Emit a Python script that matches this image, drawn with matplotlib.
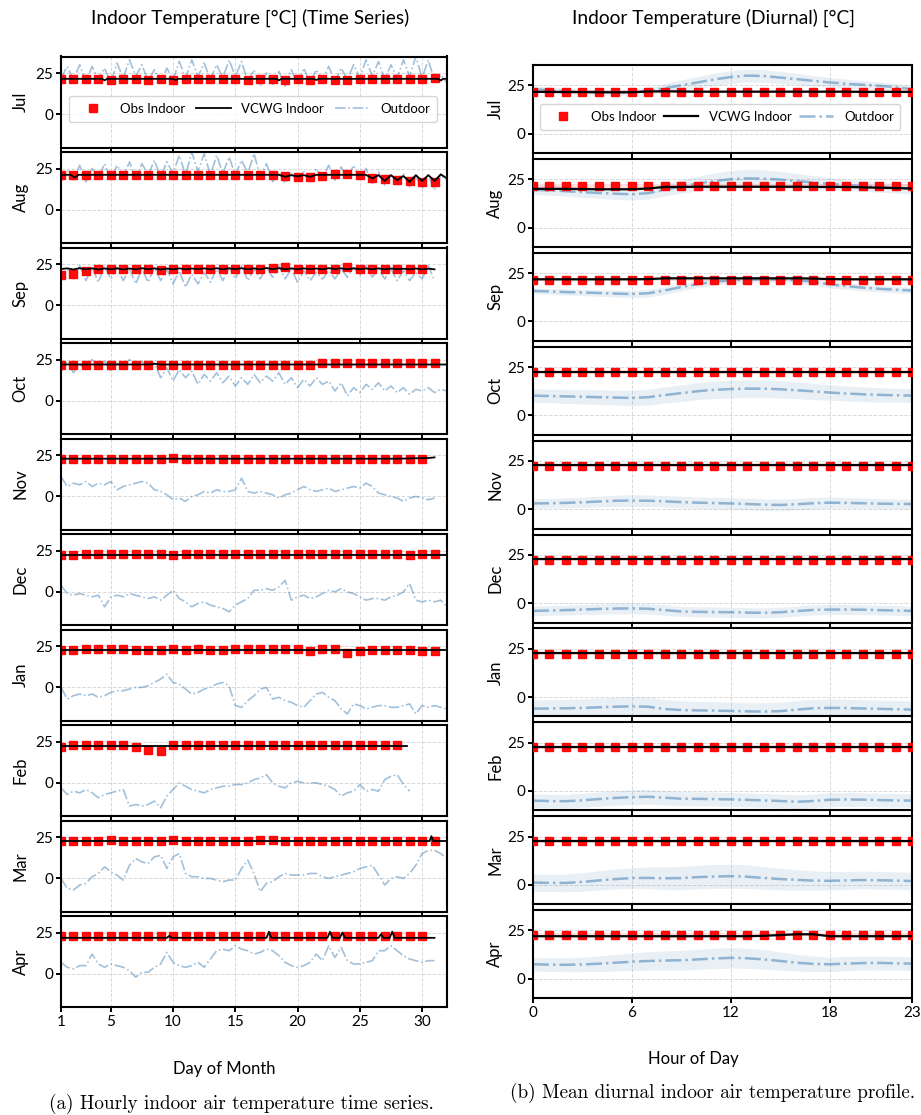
import numpy as np
import matplotlib.pyplot as plt

plt.rcParams['font.family'] = ['Lato', 'DejaVu Sans']

months = ['Jul', 'Aug', 'Sep', 'Oct', 'Nov', 'Dec', 'Jan', 'Feb', 'Mar', 'Apr']

# ---------------- hourly time series (outdoor sampled every half day) ----------------
out_jul = [22, 29, 21, 30, 20, 29, 21, 28, 19, 31, 22, 33, 23, 30, 20, 27, 19, 28, 21, 32, 22, 33,
           23, 31, 21, 30, 22, 33, 23, 32, 20, 27, 17, 25, 18, 26, 17, 27, 18, 28, 19, 27, 21, 29,
           20, 28, 21, 30, 22, 33, 23, 32, 21, 30, 22, 33, 23, 35, 22, 33, 20, 24, 19]
out_aug = [17, 24, 18, 27, 17, 25, 19, 28, 18, 27, 20, 29, 19, 28, 21, 30, 20, 29, 22, 33, 21, 35,
           23, 34, 21, 33, 22, 32, 21, 30, 22, 34, 20, 28, 17, 23, 16, 22, 17, 23, 18, 25, 19, 27,
           18, 26, 19, 27, 18, 25, 16, 23, 15, 21, 16, 22, 14, 20, 13, 21, 12, 21, 18]
out_sep = [15, 22, 16, 24, 15, 23, 14, 24, 16, 23, 15, 22, 13, 22, 14, 23, 15, 22, 13, 21, 11, 19,
           13, 20, 14, 22, 15, 23, 16, 24, 15, 22, 16, 23, 17, 24, 16, 22, 14, 21, 15, 20, 16, 21,
           16, 22, 17, 23, 18, 24, 17, 22, 16, 22, 15, 21, 15, 20, 16, 24, 15]
out_oct = [18, 24, 17, 22, 19, 25, 20, 24, 18, 23, 20, 25, 21, 24, 19, 23, 14, 20, 12, 19, 14, 18,
           10, 16, 12, 17, 11, 15, 9, 14, 10, 16, 11, 15, 12, 17, 10, 14, 8, 13, 9, 14, 10, 12,
           6, 11, 3, 8, 5, 10, 7, 11, 6, 9, 5, 8, 4, 7, 6, 8, 5, 7, 6]
out_nov = [12, 6, 8, 7, 9, 6, 8, 7, 9, 4, 6, 7, 8, 9, 8, 4, 3, 1, -2, -1, -3, 0, 1, 3, 2, 4, 3, 3,
           4, 11, 3, 2, 3, 2, 1, -1, 1, 2, 4, 6, 4, 3, 4, 5, 3, 4, 5, 6, 5, 8, 6, 2, 1, 0, -1, -3,
           -1, 0, -1, -2, -1]
out_dec = [4, -1, -2, -1, -2, -3, -2, -9, -3, -2, -3, -1, -2, -3, -4, -3, -5, -2, 1, -4, -6, -9,
           -7, -6, -8, -9, -10, -12, -8, -6, -4, 1, 1, 2, 1, 3, 7, -5, -3, -2, -4, -3, -1, 1, 0,
           2, 0, -1, -3, -5, -4, -4, -5, -3, -2, 0, 5, -5, -6, -5, -6, -5, -9]
out_jan = [0, -7, -5, -4, -5, -4, -6, -5, -3, -2, -2, -1, 0, 0, 1, 3, 5, 8, 3, 2, -1, -4, -3, -1,
           0, 2, 3, 1, -11, -12, -8, -5, -1, 0, -7, -6, -8, -9, -11, -12, -8, -4, -3, -6, -8, -13,
           -16, -10, -11, -13, -12, -11, -11, -12, -12, -11, -10, -16, -11, -12, -11, -12, -13]
out_feb = [-3, -7, -5, -6, -4, -6, -9, -7, -6, -5, -4, -14, -13, -14, -13, -11, -15, -8, -4, 0,
           -2, -4, -5, -6, -4, -3, -2, -2, -1, -1, 0, 2, 3, 5, 0, -2, -3, 0, 1, 0, 0, 0, -1, -2,
           -4, -8, -6, -5, -1, -5, -4, -5, 2, 4, 5, -1, -5]
out_mar = [0, -6, -7, -4, -3, 1, 3, 7, 4, 2, -1, 8, 12, 10, 9, 13, 14, 6, 13, 15, 3, 1, 1, 0, 0,
           -1, -2, -1, -1, 6, 11, 3, -8, -3, -2, 1, 3, 2, 2, 2, 3, 3, 1, 0, 1, 2, 3, 4, 6, 7, 8,
           2, -4, 0, 1, 0, 3, 8, 15, 17, 17, 15, 12]
out_apr = [7, 4, 3, 5, 5, 12, 6, 4, 6, 5, 4, 2, -2, 1, 1, 4, 6, 13, 7, 5, 4, 5, 7, 4, 9, 14, 15,
           14, 17, 15, 14, 12, 13, 15, 14, 11, 7, 5, 4, 5, 7, 12, 8, 17, 10, 16, 8, 6, 6, 7, 8,
           14, 14, 17, 14, 11, 9, 8, 7, 8, 8]

# observed indoor, one value per day
obs_jul = [21.5, 21.3, 21.3, 21.3, 21.0, 21.3, 21.3, 21.0, 21.3, 21.0, 21.3, 21.3, 21.3, 21.3, 21.3, 21.0,
           21.3, 21.3, 21.0, 21.3, 21.0, 21.3, 20.5, 20.7, 21.3, 21.5, 21.3, 21.3, 21.3, 21.3, 21.8]
obs_aug = [21.3, 21.0, 21.0, 21.3, 21.3, 21.3, 21.3, 21.3, 21.3, 21.3, 21.3, 21.3, 21.3, 21.3, 21.3, 21.3,
           21.3, 21.3, 20.5, 20.0, 20.0, 20.5, 21.6, 21.5, 21.0, 19.5, 18.5, 18.0, 17.5, 17.0, 17.0]
obs_sep = [18.2, 18.8, 21.0, 22.0, 22.0, 22.0, 22.0, 22.0, 21.5, 22.0, 22.0, 22.0, 22.0, 22.0, 22.0,
           22.0, 22.0, 22.5, 23.0, 22.0, 22.0, 22.0, 22.0, 23.0, 22.0, 22.0, 22.0, 22.0, 22.0, 22.0]
obs_oct = [21.5, 21.5, 21.5, 21.5, 21.5, 21.5, 21.5, 21.5, 21.5, 21.5, 21.5, 21.5, 21.5, 21.5, 21.5, 21.5,
           21.5, 21.5, 21.5, 21.5, 21.5, 23.0, 23.0, 23.0, 23.0, 23.0, 23.0, 23.0, 23.0, 23.0, 23.0]
obs_nov = [22.8, 22.8, 22.8, 22.8, 22.8, 22.8, 22.8, 22.8, 22.8, 23.5, 22.8, 22.8, 22.8, 22.8, 22.8,
           22.8, 22.8, 22.8, 22.8, 22.8, 22.8, 22.8, 22.8, 22.8, 22.8, 22.8, 22.8, 22.8, 22.8, 22.8]
obs_dec = [22.5, 22.5, 23.0, 22.7, 23.0, 22.8, 22.8, 22.7, 22.8, 22.5, 22.8, 22.8, 22.7, 22.7, 22.8, 22.8,
           22.7, 22.7, 22.8, 22.7, 23.0, 22.8, 22.7, 22.8, 22.8, 22.7, 22.8, 22.8, 22.5, 23.0, 22.8]
obs_jan = [22.8, 22.8, 23.0, 23.0, 23.0, 23.0, 22.8, 22.8, 22.8, 23.0, 22.8, 23.0, 22.8, 22.8, 23.0, 23.0,
           23.0, 23.0, 23.0, 23.0, 21.8, 23.0, 23.0, 20.7, 22.0, 22.5, 22.5, 22.5, 22.8, 21.8, 22.0]
obs_feb = [22.0, 23.0, 23.0, 23.0, 23.0, 23.0, 22.0, 20.1, 19.5, 23.0, 23.0, 23.0, 23.0, 23.0,
           23.0, 23.0, 23.0, 23.0, 22.8, 22.8, 23.0, 23.0, 23.0, 22.8, 22.8, 22.8, 23.0, 22.8]
obs_mar = [22.8, 22.8, 22.8, 22.8, 23.0, 22.8, 22.8, 22.8, 22.8, 23.0, 22.8, 22.8, 22.8, 22.5, 22.8, 22.8,
           23.5, 23.0, 22.8, 22.8, 22.8, 22.8, 22.8, 22.8, 22.8, 22.8, 22.8, 22.8, 22.8, 22.8, 22.8]
obs_apr = [22.8, 22.8, 22.8, 22.8, 22.8, 22.8, 22.8, 22.8, 22.8, 22.8, 22.8, 22.8, 22.8, 22.8, 22.8,
           22.8, 22.8, 22.8, 22.8, 22.8, 22.8, 22.8, 22.8, 22.8, 22.8, 22.8, 22.8, 22.8, 22.8, 22.8]

# VCWG indoor, (day, value) nodes
vcwg_t_jul = [1, 4.3, 4.5, 4.7, 10.0, 10.2, 10.4, 18.3, 18.5, 18.7, 21.3, 21.5, 21.7, 31.3, 31.5, 31.7, 32]
vcwg_jul = [21.5, 21.5, 20.6, 21.5, 21.5, 20.8, 21.5, 21.5, 20.6, 21.5, 21.5, 20.8, 21.5, 21.5, 20.5, 21.5, 21.5]
vcwg_t_aug = [1, 1.8, 2.1, 2.4, 18.5, 19, 19.5, 20, 20.5, 21, 21.5, 25.5, 26, 26.5, 27, 27.5, 28,
              28.5, 29, 29.5, 30, 30.5, 31, 31.5, 32]
vcwg_aug = [21.2, 21.2, 19.5, 21.2, 21.2, 20.0, 21.0, 20.3, 21.0, 20.0, 21.2, 21.2, 19.0, 21.0, 17.5, 21.0,
            18.0, 20.5, 17.0, 21.0, 17.5, 21.0, 17.5, 21.5, 19.0]
vcwg_t_sep = [1, 1.5, 2, 2.5, 3, 3.5, 4, 4.5, 5, 5.5, 6, 6.5, 7, 7.5, 8, 8.5, 9, 9.5, 10, 10.5, 11, 11.5,
              12, 12.5, 13, 13.5, 14, 14.5, 15, 15.5, 16, 16.5, 17, 17.5, 18, 18.5, 19, 19.5, 20, 20.5,
              21, 21.5, 22, 22.5, 23, 23.5, 24, 24.5, 25, 25.5, 26, 26.5, 27, 27.5, 28, 28.5, 29, 29.5,
              30, 30.5, 31]
vcwg_sep = [22.0, 22.4, 21.7, 22.5, 21.8, 22.4, 21.7, 22.3, 21.8, 22.4, 21.7, 22.3, 21.8, 22.5, 21.8, 22.4,
            21.7, 22.3, 21.8, 22.4, 21.8, 22.3, 21.9, 22.4, 21.8, 22.5, 21.8, 22.4, 21.9, 22.5, 21.8, 22.4,
            21.8, 22.6, 21.9, 22.5, 21.8, 22.4, 21.8, 22.4, 21.9, 22.3, 21.8, 22.5, 22.0, 22.4, 21.8, 22.4,
            21.9, 22.3, 21.8, 22.4, 21.8, 22.3, 21.9, 22.2, 21.8, 22.3, 21.8, 22.2, 21.8]
vcwg_t_oct = [1, 8, 8.5, 9, 32]
vcwg_oct = [22.0, 22.0, 22.4, 22.0, 22.0]
vcwg_t_nov = [1, 28, 30.5, 31]
vcwg_nov = [22.8, 22.8, 23.2, 23.6]
vcwg_t_dec = [1, 32]
vcwg_dec = [22.6, 22.6]
vcwg_t_jan = [1, 32]
vcwg_jan = [22.7, 22.7]
vcwg_t_feb = [1, 28.8]
vcwg_feb = [22.6, 22.6]
vcwg_t_mar = [1, 30.6, 30.75, 30.9, 32]
vcwg_mar = [22.6, 22.6, 25.5, 22.6, 22.6]
vcwg_t_apr = [1, 9.5, 9.7, 9.9, 17.5, 17.7, 17.9, 22.4, 22.6, 22.8, 23.4, 23.6, 23.8, 26.5, 26.7,
              26.9, 27.4, 27.6, 27.8, 31]
vcwg_apr = [21.8, 21.8, 23.0, 21.8, 21.8, 25.5, 21.8, 21.8, 25.5, 21.8, 21.8, 25.0, 21.8, 21.8, 24.0,
            21.8, 21.8, 25.5, 21.8, 21.8]

# ---------------- mean diurnal profiles (hours 0-23) ----------------
hours = np.arange(24)
d_out_jul = [23, 22.5, 22, 21.7, 21.5, 21.4, 21.5, 22, 23.5, 25, 26.5, 28, 29.3, 30, 29.8, 29, 28.2,
             27.3, 26.5, 25.8, 25.3, 24.8, 24, 23]
d_out_aug = [19.5, 19.2, 18.8, 18.3, 17.9, 17.5, 17.2, 17.8, 19.5, 21.2, 22.8, 24, 25, 25.4, 25.3,
             24.8, 24, 23.3, 22.6, 22, 21.5, 21, 20.5, 20]
d_out_sep = [15.8, 15.5, 15.2, 15, 14.7, 14.4, 14.2, 14.6, 16, 17.8, 19.3, 20.5, 21.2, 21.6, 21.8,
             21.7, 21.3, 20.5, 19.2, 18.3, 17.5, 16.9, 16.4, 16]
d_out_oct = [10.2, 10, 9.8, 9.6, 9.4, 9.2, 9, 9.4, 10.5, 11.5, 12.5, 13.2, 13.6, 13.8, 13.8, 13.5,
             13, 12.4, 11.8, 11.3, 10.9, 10.6, 10.4, 10.2]
d_out_nov = [3, 3.1, 3.3, 3.6, 4, 4.4, 4.5, 4.4, 4.1, 3.7, 3.4, 3.2, 3, 2.7, 2.4, 2.2, 2.6, 3.1, 3.4,
             3.3, 3.1, 2.9, 2.8, 2.7]
d_out_dec = [-4, -3.8, -3.6, -3.3, -3, -2.8, -2.7, -2.9, -3.6, -4.3, -4.5, -4.6, -4.7, -4.9, -5,
             -4.7, -4.1, -3.5, -3.3, -3.3, -3.4, -3.6, -3.8, -4]
d_out_jan = [-6, -5.9, -5.8, -5.6, -5.3, -5, -4.8, -5, -6.2, -6.7, -6.9, -7, -7.2, -7.4, -7.5, -7.3,
             -6.5, -5.8, -5.6, -5.7, -5.9, -6.1, -6.3, -6.5]
d_out_feb = [-5, -5.2, -5.3, -4.8, -4.2, -3.6, -3.2, -3, -3.5, -4, -4.1, -4.2, -4.4, -4.6, -4.9, -5.2,
             -5.6, -5.2, -4.6, -4.4, -4.5, -4.7, -4.9, -5]
d_out_mar = [1.2, 1, 1, 1.5, 2.3, 3, 3.5, 3.6, 3.4, 3.5, 4, 4.3, 4.5, 4.2, 3.6, 3, 2.6, 2.2, 2.1, 2.3,
             2.5, 2.4, 2.2, 2]
d_out_apr = [7.5, 7.3, 7.2, 7.4, 7.8, 8.3, 8.8, 9.2, 9.4, 9.6, 10, 10.5, 10.8, 10.6, 10, 9.2, 8.3,
             7.7, 7.5, 7.8, 8.1, 8.2, 8, 7.8]

# outdoor spread (one std) per month
d_std_jul = [1.7, 1.7, 1.6, 1.6, 1.6, 1.6, 1.7, 2.0, 2.4, 2.8, 3.0, 3.2, 3.3, 3.3, 3.3, 3.2, 3.0, 2.8,
             2.6, 2.4, 2.2, 2.0, 1.9, 1.8]
d_std_aug = [2.5, 2.5, 2.6, 2.7, 2.8, 2.9, 3.0, 3.0, 3.2, 3.5, 3.8, 4.2, 4.5, 4.7, 4.6, 4.3, 4.0, 3.6,
             3.2, 3.0, 2.8, 2.7, 2.6, 2.5]
d_std_sep = [1.5, 1.5, 1.6, 1.6, 1.7, 1.8, 1.9, 2.0, 2.0, 2.0, 1.9, 1.8, 1.6, 1.5, 1.5, 1.6, 1.7, 1.8,
             1.8, 1.7, 1.7, 1.6, 1.6, 1.5]
d_std_oct = [3.5, 3.5, 3.6, 3.7, 3.8, 3.9, 4.0, 4.1, 4.2, 4.3, 4.4, 4.5, 4.6, 4.6, 4.6, 4.5, 4.4, 4.2,
             4.0, 3.9, 3.8, 3.7, 3.6, 3.5]
d_std_nov = [2.5, 2.5, 2.6, 2.7, 2.8, 2.9, 3.0, 3.0, 3.0, 3.0, 3.0, 3.0, 3.0, 3.0, 3.0, 3.0, 3.0, 3.0,
             2.9, 2.8, 2.7, 2.6, 2.5, 2.5]
d_std_dec = [2.5, 2.5, 2.5, 2.6, 2.7, 2.8, 2.8, 2.8, 2.7, 2.6, 2.6, 2.6, 2.6, 2.6, 2.6, 2.6, 2.6, 2.6,
             2.6, 2.6, 2.5, 2.5, 2.5, 2.5]
d_std_jan = [4.5, 4.5, 4.6, 4.7, 4.8, 4.9, 5.0, 5.0, 4.9, 4.8, 4.7, 4.6, 4.6, 4.6, 4.6, 4.6, 4.6, 4.6,
             4.6, 4.6, 4.5, 4.5, 4.5, 4.5]
d_std_feb = [3.5, 3.5, 3.6, 3.6, 3.7, 3.8, 3.9, 3.9, 3.8, 3.7, 3.6, 3.6, 3.6, 3.6, 3.6, 3.6, 3.6, 3.6,
             3.6, 3.6, 3.5, 3.5, 3.5, 3.5]
d_std_mar = [4.5, 4.5, 4.6, 4.8, 5.0, 5.2, 5.4, 5.6, 5.8, 6.0, 6.1, 6.2, 6.2, 6.1, 5.9, 5.6, 5.3, 5.0,
             4.8, 4.7, 4.6, 4.6, 4.5, 4.5]
d_std_apr = [3.5, 3.5, 3.6, 3.8, 4.0, 4.3, 4.6, 4.8, 5.0, 5.1, 5.2, 5.3, 5.3, 5.2, 5.0, 4.7, 4.3, 4.0,
             3.8, 3.7, 3.6, 3.6, 3.5, 3.5]

d_obs = [21.6, 21.4, 21.6, 22.2, 22.5, 22.4, 22.5, 22.5, 22.5, 22.8]
d_obs_std = [0.8, 1.2, 0.8, 0.9, 0.7, 0.7, 0.7, 0.8, 0.7, 0.8]

d_vcwg_jul = [21.6, 21.6, 21.5, 21.5, 21.4, 21.4, 21.4, 21.8, 21.9, 21.8, 21.7, 21.7, 21.7, 21.7,
              21.7, 21.7, 21.7, 21.7, 21.7, 21.7, 21.6, 21.6, 21.6, 21.6]
d_vcwg_aug = [20.0, 20.0, 20.0, 19.9, 19.8, 19.8, 19.8, 20.2, 21.0, 21.0, 21.1, 21.1, 21.1, 21.1,
              21.1, 21.1, 21.1, 21.0, 21.0, 21.0, 20.8, 20.6, 20.4, 20.2]
d_vcwg_sep = [21.8, 21.8, 21.8, 21.8, 21.8, 21.8, 21.8, 21.9, 22.3, 22.3, 22.3, 22.3, 22.3, 22.3,
              22.3, 22.3, 22.3, 22.2, 21.9, 21.8, 21.8, 21.8, 21.8, 21.8]
d_vcwg_oct = [22.2] * 24
d_vcwg_nov = [23.0] * 24
d_vcwg_dec = [22.7] * 24
d_vcwg_jan = [22.6] * 24
d_vcwg_feb = [22.6] * 24
d_vcwg_mar = [22.6] * 24
d_vcwg_apr = [22.0, 22.0, 22.0, 22.0, 22.0, 22.0, 22.0, 22.0, 22.0, 22.0, 22.0, 22.0, 22.0, 22.0,
              22.2, 22.6, 23.0, 23.0, 22.0, 22.0, 22.0, 22.0, 22.0, 22.0]

ts_out = [out_jul, out_aug, out_sep, out_oct, out_nov, out_dec, out_jan, out_feb, out_mar, out_apr]
ts_obs = [obs_jul, obs_aug, obs_sep, obs_oct, obs_nov, obs_dec, obs_jan, obs_feb, obs_mar, obs_apr]
ts_vcwg_t = [vcwg_t_jul, vcwg_t_aug, vcwg_t_sep, vcwg_t_oct, vcwg_t_nov, vcwg_t_dec, vcwg_t_jan,
             vcwg_t_feb, vcwg_t_mar, vcwg_t_apr]
ts_vcwg = [vcwg_jul, vcwg_aug, vcwg_sep, vcwg_oct, vcwg_nov, vcwg_dec, vcwg_jan, vcwg_feb, vcwg_mar, vcwg_apr]
di_out = [d_out_jul, d_out_aug, d_out_sep, d_out_oct, d_out_nov, d_out_dec, d_out_jan, d_out_feb,
          d_out_mar, d_out_apr]
di_std = [d_std_jul, d_std_aug, d_std_sep, d_std_oct, d_std_nov, d_std_dec, d_std_jan, d_std_feb,
          d_std_mar, d_std_apr]
di_vcwg = [d_vcwg_jul, d_vcwg_aug, d_vcwg_sep, d_vcwg_oct, d_vcwg_nov, d_vcwg_dec, d_vcwg_jan,
           d_vcwg_feb, d_vcwg_mar, d_vcwg_apr]

# styles
W, H = 921, 1115
out_color = 'steelblue'
grid_kw = dict(color='#d9d9d9', linestyle='--', linewidth=0.7)


def box(x0, x1, top, h):
    # pixel box -> figure fraction
    return [x0 / W, 1 - (top + h) / H, (x1 - x0) / W, h / H]


def style_axes(ax):
    for s in ax.spines.values():
        s.set_linewidth(1.5)
    ax.tick_params(direction='out', length=3.5, width=1.4, labelsize=11, pad=2)
    ax.set_yticks([0, 25])
    ax.grid(True, **grid_kw)
    ax.set_axisbelow(True)


fig = plt.figure(figsize=(W / 100, H / 100), dpi=100)

# left column: time series by day of month
for i, m in enumerate(months):
    ax = fig.add_axes(box(61, 447, 56.5 + i * 95.5, 91))
    style_axes(ax)
    t_out = 1 + 0.5 * np.arange(len(ts_out[i]))
    ax.plot(t_out, ts_out[i], color=out_color, alpha=0.5, lw=1.2, ls='-.', zorder=1, label='Outdoor')
    days = np.arange(1, len(ts_obs[i]) + 1)
    ax.plot(days, ts_obs[i], 's', color='red', ms=5.5, alpha=0.95, zorder=2, label='Obs Indoor')
    ax.plot(ts_vcwg_t[i], ts_vcwg[i], color='black', lw=1.3, zorder=3, label='VCWG Indoor')
    ax.set_xlim(1, 32)
    ax.set_ylim(-20, 35)
    ax.set_xticks([1, 5, 10, 15, 20, 25, 30])
    ax.set_ylabel(m, fontsize=12, labelpad=5)
    if i < 9:
        ax.tick_params(labelbottom=False)
    if i == 0:
        h, l = ax.get_legend_handles_labels()
        ax.legend([h[1], h[2], h[0]], [l[1], l[2], l[0]], ncol=3, loc='center', mode='expand',
                  bbox_to_anchor=(0.003, 0.29, 0.987, 0.265), fontsize=9.5, framealpha=0.8,
                  borderpad=0.5, handlelength=2.6)

# right column: mean diurnal profile
for i, m in enumerate(months):
    ax = fig.add_axes(box(533, 912, 65 + i * 93.9, 88))
    style_axes(ax)
    out = np.array(di_out[i])
    sd = np.array(di_std[i])
    ax.fill_between(hours, out - sd, out + sd, color=out_color, alpha=0.12, lw=0, zorder=1)
    ax.plot(hours, out, color=out_color, alpha=0.55, lw=1.8, ls='-.', zorder=2, label='Outdoor')
    obs = np.full(24, d_obs[i])
    ax.fill_between(hours, obs - d_obs_std[i], obs + d_obs_std[i], color='red', alpha=0.12, lw=0, zorder=1)
    ax.plot(hours, obs, 's', color='red', ms=6, alpha=0.95, zorder=3, label='Obs Indoor')
    ax.plot(hours, di_vcwg[i], color='black', lw=1.6, zorder=4, label='VCWG Indoor')
    ax.set_xlim(0, 23)
    ax.set_ylim(-10, 35.5)
    ax.set_xticks([0, 6, 12, 18, 23])
    ax.set_ylabel(m, fontsize=12, labelpad=3)
    if i < 9:
        ax.tick_params(labelbottom=False)
    if i == 0:
        h, l = ax.get_legend_handles_labels()
        ax.legend([h[1], h[2], h[0]], [l[1], l[2], l[0]], ncol=3, loc='center', mode='expand',
                  bbox_to_anchor=(0.0, 0.284, 0.987, 0.25), fontsize=9.5, framealpha=0.8,
                  borderpad=0.5, handlelength=2.6)


def ftext(x, y, s, **kw):
    fig.text(x / W, 1 - y / H, s, ha='center', va='center', **kw)


ftext(250, 18, 'Indoor Temperature [°C] (Time Series)', fontsize=13.8)
ftext(713, 18, 'Indoor Temperature (Diurnal) [°C]', fontsize=13.8)
ftext(224, 1069, 'Day of Month', fontsize=12)
ftext(693, 1059, 'Hour of Day', fontsize=12)
ftext(241, 1104, '(a) Hourly indoor air temperature time series.', fontsize=13.8, family='cmr10')
ftext(713, 1093, '(b) Mean diurnal indoor air temperature profile.', fontsize=13.8, family='cmr10')

fig.savefig('out.png', dpi=100)
